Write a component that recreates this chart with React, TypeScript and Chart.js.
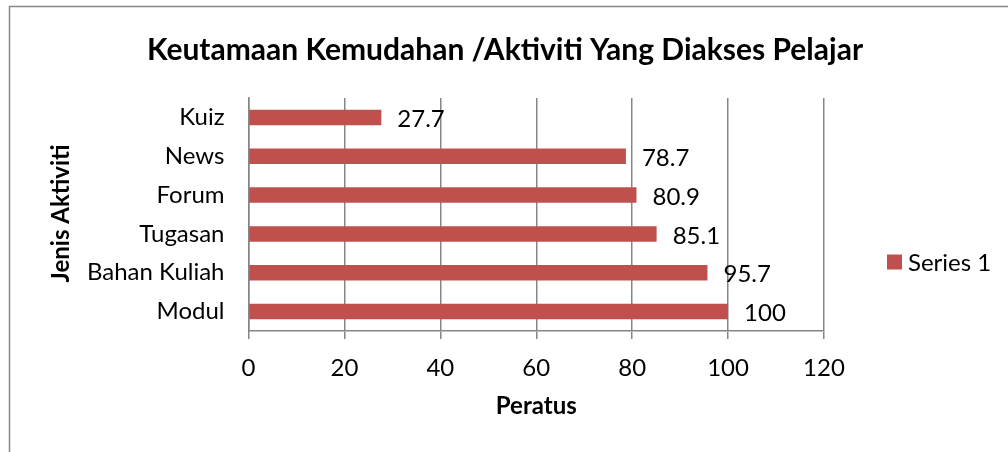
import React, { useEffect, useRef } from "react";
import { Chart, registerables } from "chart.js";

Chart.register(...registerables);

const categories = ["Modul", "Bahan Kuliah", "Tugasan", "Forum", "News", "Kuiz"];
const values = [100, 95.7, 85.1, 80.9, 78.7, 27.7];
const seriesName = "Series 1";
const titleText = "Keutamaan Kemudahan /Aktiviti Yang Diakses Pelajar";
const xTitle = "Peratus";
const yTitle = "Jenis Aktiviti";
const xMin = 0;
const xMax = 120;
const xStep = 20;

const FONT = "Lato, 'Open Sans', sans-serif";
const BAR = "#C0504D";
const GRID = "#868686";
const FS = 24;

const extras = {
  id: "extras",
  afterDraw(chart: any) {
    const ctx = chart.ctx;
    const area = chart.chartArea;
    ctx.save();
    ctx.setTransform(1, 0, 0, 1, 0, 0);
    // frame
    ctx.strokeStyle = "#878787";
    ctx.lineWidth = 1.5;
    ctx.beginPath();
    ctx.moveTo(9.5, chart.height);
    ctx.lineTo(9.5, 6.5);
    ctx.lineTo(chart.width, 6.5);
    ctx.stroke();
    // title
    ctx.fillStyle = "#000";
    ctx.font = `bold 30px ${FONT}`;
    ctx.textAlign = "center";
    ctx.textBaseline = "middle";
    ctx.fillText(titleText, 505, 50);
    // y axis title
    ctx.save();
    ctx.translate(61, (area.top + area.bottom) / 2 - 1);
    ctx.rotate(-Math.PI / 2);
    ctx.font = `bold ${FS}px ${FONT}`;
    ctx.textAlign = "center";
    ctx.textBaseline = "middle";
    ctx.fillText(yTitle, 0, 0);
    ctx.restore();
    // data labels
    const meta = chart.getDatasetMeta(0);
    ctx.font = `${FS}px ${FONT}`;
    ctx.textAlign = "left";
    ctx.textBaseline = "middle";
    meta.data.forEach((bar: any, i: number) => {
      ctx.fillText(String(values[i]), bar.x + 16, bar.y + 2);
    });
    // legend
    const ly = 262;
    ctx.fillStyle = BAR;
    ctx.fillRect(887, ly - 7.5, 15, 15);
    ctx.fillStyle = "#000";
    ctx.fillText(seriesName, 908, ly + 1);
    ctx.restore();
  },
};

export default function App() {
  const ref = useRef<HTMLCanvasElement>(null);
  useEffect(() => {
    document.body.style.margin = "0";
    const chart = new Chart(ref.current!, {
      type: "bar",
      data: {
        labels: categories,
        datasets: [
          {
            label: seriesName,
            data: values,
            backgroundColor: BAR,
            categoryPercentage: 1,
            barPercentage: 0.4,
          },
        ],
      },
      options: {
        indexAxis: "y",
        animation: false,
        responsive: false,
        devicePixelRatio: 1,
        layout: { padding: { top: 98, right: 184, left: 0, bottom: 0 } },
        plugins: { legend: { display: false }, title: { display: false }, tooltip: { enabled: false } },
        scales: {
          x: {
            min: xMin,
            max: xMax,
            ticks: { stepSize: xStep, color: "#000", font: { family: FONT, size: FS }, padding: 15 },
            grid: { color: GRID, lineWidth: 1.5, tickLength: 8, drawTicks: true },
            border: { color: GRID, width: 1.5 },
            title: { display: true, text: xTitle, color: "#000", font: { family: FONT, size: FS, weight: "bold" }, padding: { top: 0, bottom: 31 } },
            afterFit: (s: any) => { s.height = 121; },
          },
          y: {
            reverse: true,
            ticks: { color: "#000", font: { family: FONT, size: FS }, padding: 16 },
            grid: { display: false },
            border: { color: GRID, width: 1.5 },
            afterFit: (s: any) => { s.width = 248.5; },
          },
        },
      },
      plugins: [extras],
    });
    return () => chart.destroy();
  }, []);
  return <canvas ref={ref} width={1008} height={452} style={{ display: "block" }} />;
}
